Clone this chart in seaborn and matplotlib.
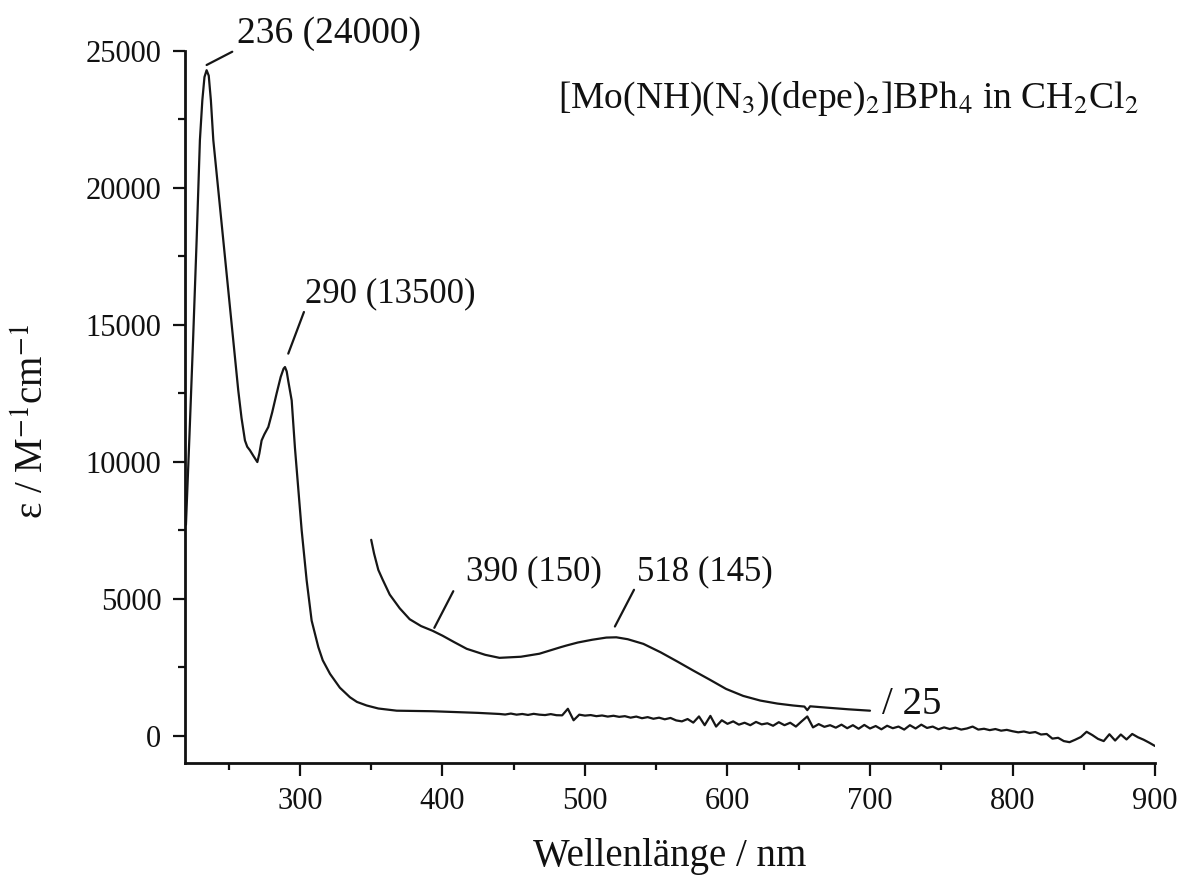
import numpy as np
import pandas as pd
import matplotlib
matplotlib.use("Agg")
import matplotlib.pyplot as plt
import seaborn as sns
from matplotlib.ticker import MultipleLocator, FuncFormatter

# ---- data ----
main_nm = [220, 222.5, 225, 227.5, 229.8, 231.5, 233, 234.5, 236, 237.5, 239.2, 242.7,
           246.2, 249.7, 253.2, 256.7, 259, 261.4, 263, 264.9, 267.5, 270.1, 271.5,
           273.1, 275, 277.8, 280.5, 283.6, 286.5, 288.5, 289.5, 290.7, 291.8, 294.2,
           296.5, 299, 301.2, 304.7, 308.2, 312.9, 316, 321.1, 328, 335.1, 340, 346.8,
           355, 367.9, 380, 393, 410, 425, 436]
main_eps = [7700, 11000, 14440, 18090, 21750, 23200, 24050, 24300, 24100, 23200, 21750,
            19920, 18090, 16260, 14440, 12610, 11600, 10780, 10550, 10420, 10200, 9990,
            10300, 10780, 11000, 11270, 11800, 12490, 13100, 13400, 13460, 13300, 12950,
            12240, 10500, 8900, 7500, 5670, 4200, 3230, 2750, 2255, 1750, 1400, 1230,
            1100, 990, 910, 900, 890, 860, 830, 800]

tail_nm = [440, 444, 448, 452, 456, 460, 464, 468, 472, 476, 480, 484, 488, 492, 496,
           500, 504, 508, 512, 516, 520, 524, 528, 532, 536, 540, 544, 548, 552, 556,
           560, 564, 568, 572, 576, 580, 584, 588, 592, 596, 600, 604, 608, 612, 616,
           620, 624, 628, 632, 636, 640, 644, 648, 652, 656, 660, 664, 668, 672, 676,
           680, 684, 688, 692, 696, 700, 704, 708, 712, 716, 720, 724, 728, 732, 736,
           740, 744, 748, 752, 756, 760, 764, 768, 772, 776, 780, 784, 788, 792, 796,
           800, 804, 808, 812, 816, 820, 824, 828, 832, 836, 840, 844, 848, 852, 856,
           860, 864, 868, 872, 876, 880, 884, 888, 892, 896, 900]
tail_eps = [790, 770, 805, 765, 790, 755, 795, 765, 750, 785, 745, 740, 980, 560, 765,
            730, 750, 710, 735, 695, 725, 685, 710, 655, 695, 635, 675, 615, 655, 595,
            645, 555, 520, 605, 475, 700, 380, 720, 330, 560, 430, 520, 400, 470, 380,
            500, 410, 450, 360, 490, 380, 470, 330, 520, 700, 300, 420, 320, 380, 290,
            400, 270, 380, 250, 390, 260, 350, 230, 360, 270, 330, 220, 380, 260, 400,
            280, 330, 230, 300, 240, 290, 220, 260, 330, 220, 250, 200, 240, 180, 210,
            160, 120, 150, 100, 130, 40, 60, -110, -80, -200, -240, -150, -50, 140, 20,
            -120, -200, 50, -180, 40, -140, 60, -60, -150, -260, -380]

# magnified (x25) visible-region spectrum
vis_nm = [350, 352, 355, 358, 363, 370, 377, 385, 393, 400, 408, 417, 430, 440, 455, 468,
          483, 487, 495, 505, 515, 522, 530, 541, 553, 565, 576, 588, 599, 611, 623, 635,
          646, 654, 656, 658, 670, 685, 700]
vis_eps = [7150, 6650, 6050, 5700, 5150, 4650, 4250, 4000, 3830, 3650, 3420, 3170, 2950,
           2840, 2880, 2990, 3230, 3290, 3400, 3500, 3580, 3590, 3520, 3350, 3045, 2700,
           2375, 2030, 1705, 1450, 1280, 1170, 1100, 1060, 930, 1070, 1020, 960, 910]

peak_labels = ["236 (24000)", "290 (13500)", "390 (150)", "518 (145)"]
title_text = r"[Mo(NH)(N$_3$)(depe)$_2$]BPh$_4$ in CH$_2$Cl$_2$"
x_label = "Wellenlänge / nm"
y_label = r"ε / M$^{-1}$cm$^{-1}$"
scale_label = "/ 25"

# ---- plotting ----
sns.set_theme(style="ticks")
plt.rcParams["font.family"] = ["Liberation Serif", "DejaVu Serif"]
plt.rcParams["mathtext.fontset"] = "stix"

low = pd.DataFrame({"nm": main_nm + tail_nm, "eps": main_eps + tail_eps})
vis = pd.DataFrame({"nm": vis_nm, "eps": vis_eps})

fig = plt.figure(figsize=(11.81, 8.77), dpi=100)
ax = fig.add_axes([0.1566, 0.130, 0.8214, 0.8118])

lc = "#161616"
sns.lineplot(data=low, x="nm", y="eps", ax=ax, color=lc, lw=1.6, sort=False, estimator=None)
sns.lineplot(data=vis, x="nm", y="eps", ax=ax, color=lc, lw=1.6, sort=False, estimator=None)

ax.set_xlim(219.3, 900)
ax.set_ylim(-1000, 25000)
sns.despine(ax=ax)
for s in ["left", "bottom"]:
    ax.spines[s].set_linewidth(2.0)
    ax.spines[s].set_color("#111111")

ax.xaxis.set_major_locator(MultipleLocator(100))
ax.xaxis.set_minor_locator(MultipleLocator(50))
ax.yaxis.set_major_locator(MultipleLocator(5000))
ax.yaxis.set_minor_locator(MultipleLocator(2500))
ax.yaxis.set_major_formatter(FuncFormatter(lambda v, p: f"{int(round(v))}"))
ax.tick_params(which="major", direction="out", length=9, width=1.6, labelsize=22,
               pad=8, colors="#111111")
ax.tick_params(which="minor", direction="out", length=5, width=1.6, colors="#111111")

ax.set_xlabel(x_label, fontsize=28, color="#111111")
ax.set_ylabel(y_label, fontsize=28, color="#111111")
ax.xaxis.set_label_coords(0.5, -0.105)
ax.yaxis.set_label_coords(-0.136, 0.48)

tc = "#111111"
# leader lines and labels
ann = [
    (peak_labels[0], (234.5, 24490), (252.5, 24975), (255.8, 25290), 27),
    (peak_labels[1], (291.8, 13950), (302.8, 15470), (303.5, 15826), 25),
    (peak_labels[2], (394.3, 3936), (407.6, 5274), (416.5, 5665), 25),
    (peak_labels[3], (521.0, 3984), (534.4, 5325), (536.3, 5665), 25),
]
for txt, p1, p2, pt, fs in ann:
    ax.plot([p1[0], p2[0]], [p1[1], p2[1]], color=lc, lw=1.6, clip_on=False)
    ax.text(pt[0], pt[1], txt, fontsize=fs, color=tc, ha="left", va="baseline",
            clip_on=False)

ax.text(708.4, 800, scale_label, fontsize=28, color=tc, ha="left", va="baseline")
ax.text(0.983, 0.933, title_text, transform=ax.transAxes, fontsize=27, color=tc,
        ha="right", va="center")

fig.savefig("out.png", dpi=100, facecolor="white")
